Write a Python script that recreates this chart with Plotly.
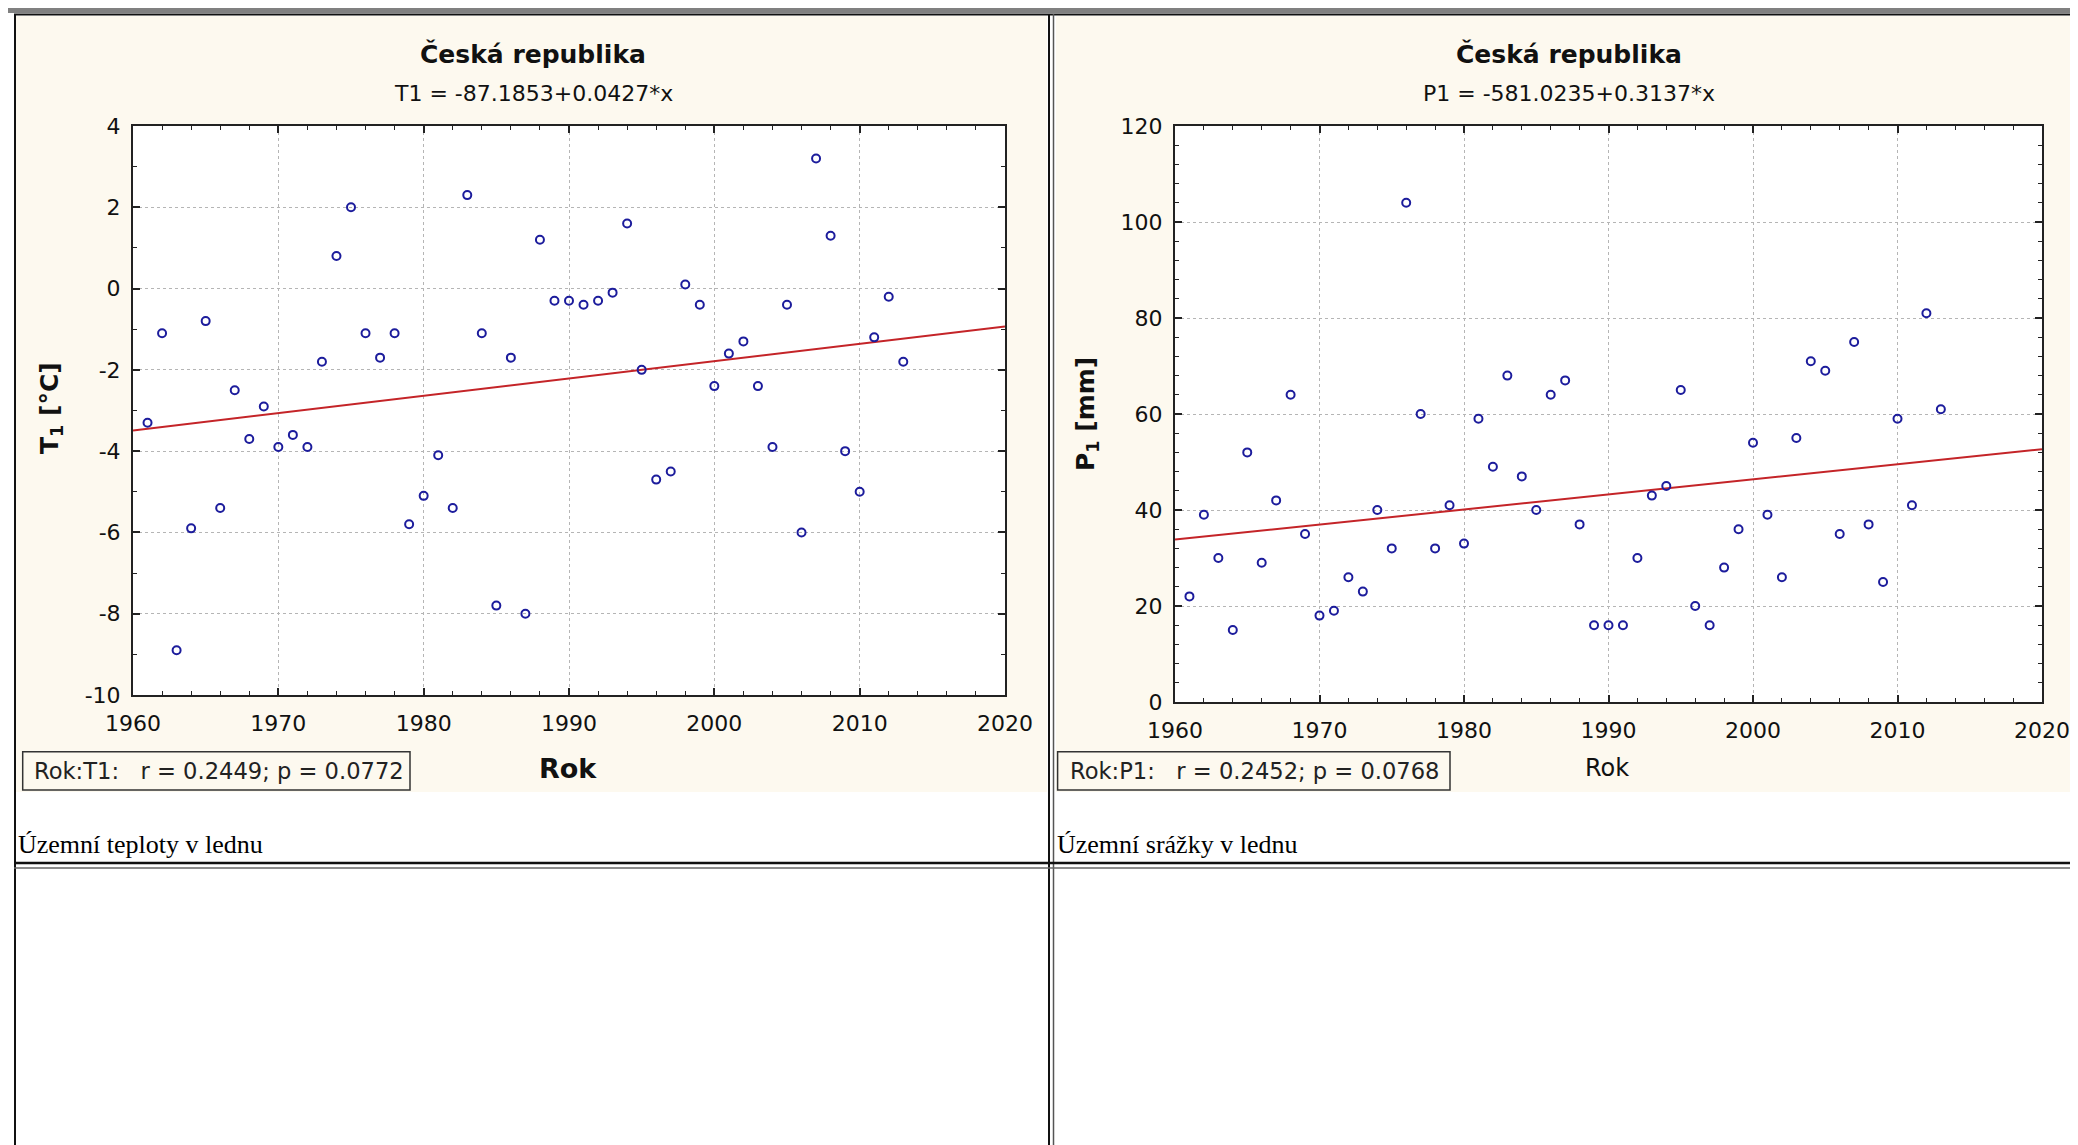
import plotly.graph_objects as go

# ---------------- data ----------------
years = list(range(1961, 2014))
t1_values = [-3.3, -1.1, -8.9, -5.9, -0.8, -5.4, -2.5, -3.7, -2.9, -3.9,
             -3.6, -3.9, -1.8, 0.8, 2.0, -1.1, -1.7, -1.1, -5.8, -5.1,
             -4.1, -5.4, 2.3, -1.1, -7.8, -1.7, -8.0, 1.2, -0.3, -0.3,
             -0.4, -0.3, -0.1, 1.6, -2.0, -4.7, -4.5, 0.1, -0.4, -2.4,
             -1.6, -1.3, -2.4, -3.9, -0.4, -6.0, 3.2, 1.3, -4.0, -5.0,
             -1.2, -0.2, -1.8]
p1_values = [22, 39, 30, 15, 52, 29, 42, 64, 35, 18,
             19, 26, 23, 40, 32, 104, 60, 32, 41, 33,
             59, 49, 68, 47, 40, 64, 67, 37, 16, 16,
             16, 30, 43, 45, 65, 20, 16, 28, 36, 54,
             39, 26, 55, 71, 69, 35, 75, 37, 25, 59,
             41, 81, 61]
t1_coef = (-87.1853, 0.0427)
p1_coef = (-581.0235, 0.3137)
x_range = [1960, 2020]
x_ticks = [1960, 1970, 1980, 1990, 2000, 2010, 2020]
t1_ticks = [-10, -8, -6, -4, -2, 0, 2, 4]
p1_ticks = [0, 20, 40, 60, 80, 100, 120]

title_text = "Česká republika"
t1_eq = "T1 = -87.1853+0.0427*x"
p1_eq = "P1 = -581.0235+0.3137*x"
t1_stat = "Rok:T1:\u00a0\u00a0\u00a0r = 0.2449; p = 0.0772"
p1_stat = "Rok:P1:\u00a0\u00a0\u00a0r = 0.2452; p = 0.0768"
t1_caption = "Územní teploty v lednu"
p1_caption = "Územní srážky v lednu"

# ---------------- geometry helpers ----------------
# The page body has an 8px margin, so the figure starts at (8, 8) in the window.
OFF = 8
W, H = 2078 - OFF, 1145 - OFF
def px(x):
    return (x - OFF) / W
def py(y):
    return 1 - (y - OFF) / H

CREAM = "#FDF9EF"
MARK = "#1C1C9C"
RED = "#C42428"
AX = "#222222"
SANS = "DejaVu Sans"
SERIF = "Liberation Serif"

fig = go.Figure()

# scatter + regression lines
for xa, ya, vals, coef in [("x", "y", t1_values, t1_coef), ("x2", "y2", p1_values, p1_coef)]:
    fig.add_trace(go.Scatter(
        x=[x_range[0], x_range[1]],
        y=[coef[0] + coef[1] * x_range[0], coef[0] + coef[1] * x_range[1]],
        mode="lines", line=dict(color=RED, width=2),
        xaxis=xa, yaxis=ya, showlegend=False, hoverinfo="skip"))
    fig.add_trace(go.Scatter(
        x=years, y=vals, mode="markers",
        marker=dict(symbol="circle-open", size=8, color=MARK, line=dict(width=2, color=MARK)),
        xaxis=xa, yaxis=ya, showlegend=False))

def xaxis_cfg(x0, x1):
    return dict(
        domain=[px(x0), px(x1)], range=x_range,
        tickvals=x_ticks, ticktext=[str(v) for v in x_ticks],
        ticks="inside", ticklen=7, tickwidth=1.5, tickcolor=AX,
        showline=True, linecolor=AX, linewidth=2, mirror="ticks",
        showgrid=True, gridcolor="#B5B5B5", griddash="dot", gridwidth=1,
        zeroline=False, fixedrange=True, automargin=False, ticklabelstandoff=8,
        minor=dict(dtick=2, tick0=1960, ticks="inside", ticklen=4, tickwidth=1.2,
                   tickcolor=AX, showgrid=False),
        tickfont=dict(family=SANS, size=22, color="#111111"))

def yaxis_cfg(y0, y1, rng, tv, minor_dt):
    return dict(
        domain=[py(y1), py(y0)], range=rng,
        tickvals=tv, ticktext=[str(v) for v in tv],
        ticks="inside", ticklen=7, tickwidth=1.5, tickcolor=AX,
        showline=True, linecolor=AX, linewidth=2, mirror="ticks",
        showgrid=True, gridcolor="#B5B5B5", griddash="dot", gridwidth=1,
        zeroline=False, fixedrange=True, automargin=False, ticklabelstandoff=6,
        minor=dict(dtick=minor_dt, ticks="inside", ticklen=4, tickwidth=1.2,
                   tickcolor=AX, showgrid=False),
        tickfont=dict(family=SANS, size=22, color="#111111"))

fig.update_layout(
    width=W, height=H,
    margin=dict(l=0, r=0, t=0, b=0, pad=0, autoexpand=False),
    paper_bgcolor=CREAM, plot_bgcolor="white",
    xaxis=dict(xaxis_cfg(133, 1005), anchor="y"),
    yaxis=dict(yaxis_cfg(126, 695, [-10, 4], t1_ticks, 1), anchor="x"),
    xaxis2=dict(xaxis_cfg(1175, 2042), anchor="y2"),
    yaxis2=dict(yaxis_cfg(126, 702, [0, 120], p1_ticks, 4), anchor="x2"),
)

shapes = []
def rect(x0, y0, x1, y1, fill, line_w=0, line_c=None, layer="below"):
    d = dict(type="rect", xref="paper", yref="paper",
             x0=px(x0), x1=px(x1), y0=py(y1), y1=py(y0),
             fillcolor=fill, layer=layer, line=dict(width=line_w, color=line_c or fill))
    shapes.append(d)
def line(x0, y0, x1, y1, color, w):
    shapes.append(dict(type="line", xref="paper", yref="paper",
                       x0=px(x0), x1=px(x1), y0=py(y0), y1=py(y1),
                       line=dict(color=color, width=w), layer="above"))

# white page areas (outside the chart images)
rect(0, 0, 2078, 16, "white")
rect(0, 0, 16, 1145, "white")
rect(0, 792, 2078, 1145, "white")
rect(1047, 0, 1056, 1145, "white")
# top gray bar and table borders
rect(8, 8, 2078, 13, "#808080")
line(14, 14.5, 2078, 14.5, "#111111", 2)
line(15, 14, 15, 1145, "#111111", 2)
line(1049, 14, 1049, 1145, "#111111", 2)
line(1053.5, 14, 1053.5, 1145, "#555555", 1.5)
line(14, 863, 2078, 863, "#111111", 2.5)
line(14, 868, 2078, 868, "#666666", 1.5)
# stats boxes
rect(22.7, 751.7, 410, 790, "rgba(0,0,0,0)", 1.5, "#333333", layer="above")
rect(1057.6, 751.7, 1450, 790, "rgba(0,0,0,0)", 1.5, "#333333", layer="above")
fig.update_layout(shapes=shapes)

ann = []
def text(x, y, s, size, bold=False, family=SANS, xanchor="center", angle=0, color="#111111"):
    ann.append(dict(xref="paper", yref="paper", x=px(x), y=py(y),
                    text=f"<b>{s}</b>" if bold else s, showarrow=False,
                    xanchor=xanchor, yanchor="middle", textangle=angle,
                    font=dict(family=family, size=size, color=color)))

text(533, 54, title_text, 25, bold=True)
text(533, 93, t1_eq, 22)
text(1569, 54, title_text, 25, bold=True)
text(1569, 93, p1_eq, 22)
text(51, 408, "T<sub>1</sub> [°C]", 25, bold=True, angle=-90)
text(1087, 414, "P<sub>1</sub> [mm]", 25, bold=True, angle=-90)
text(568, 768, "Rok", 27, bold=True)
text(1607, 768, "Rok", 24)
text(32, 771, t1_stat, 22.6, xanchor="left", color="#222222")
text(1068, 771, p1_stat, 22.6, xanchor="left", color="#222222")
text(16, 844, t1_caption, 26, family=SERIF, xanchor="left", color="#000000")
text(1055, 844, p1_caption, 26, family=SERIF, xanchor="left", color="#000000")
fig.update_layout(annotations=ann)

fig.write_html("out.html")
